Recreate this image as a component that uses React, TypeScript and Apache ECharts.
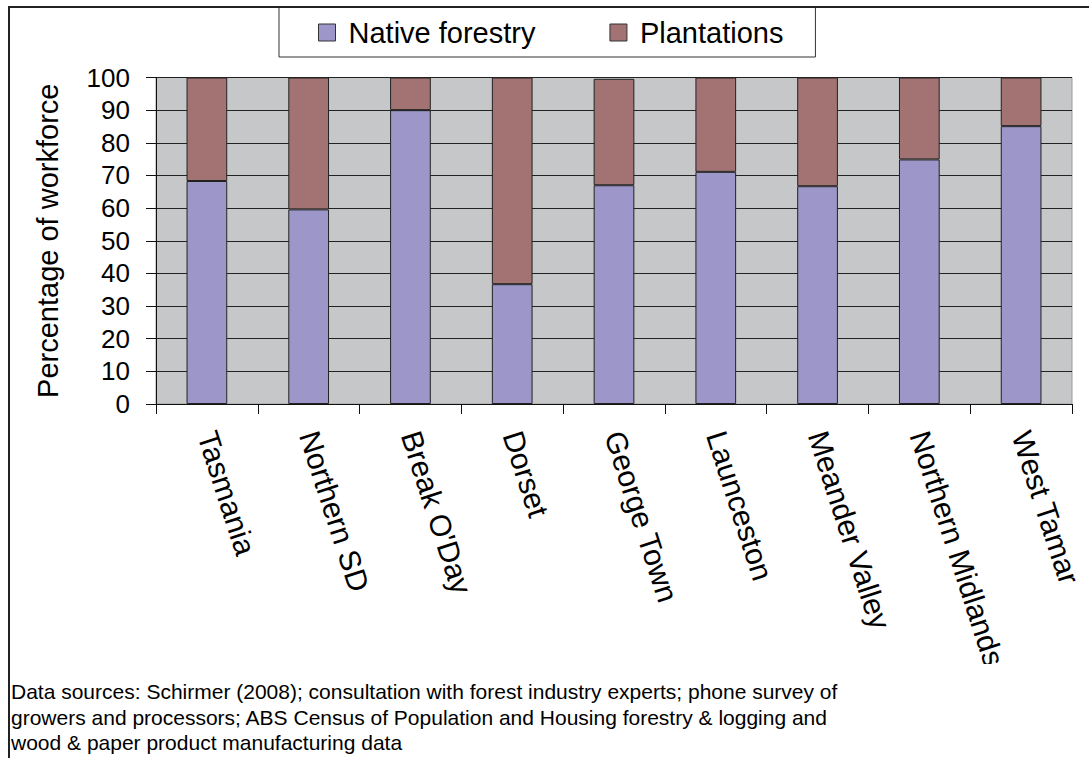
import React, { useEffect, useRef } from "react";
import * as echarts from "echarts";

const categories = [
  "Tasmania",
  "Northern SD",
  "Break O'Day",
  "Dorset",
  "George Town",
  "Launceston",
  "Meander Valley",
  "Northern Midlands",
  "West Tamar",
];
const nativeForestry = [68.3, 59.6, 90.0, 36.7, 67.0, 71.1, 66.7, 74.9, 85.1];
const plantations = [31.7, 40.4, 10.0, 63.3, 32.6, 28.9, 33.3, 25.1, 14.9];
const seriesNames = ["Native forestry", "Plantations"];
const yAxisTitle = "Percentage of workforce";
const footnoteLines = [
  "Data sources: Schirmer (2008); consultation with forest industry experts; phone survey of",
  "growers and processors; ABS Census of Population and Housing forestry & logging and",
  "wood & paper product manufacturing data",
];

const FONT = "'Liberation Sans', Arial, sans-serif";

export default function App() {
  const ref = useRef<HTMLDivElement>(null);
  useEffect(() => {
    if (!ref.current) return;
    const chart = echarts.init(ref.current, null, { renderer: "svg" });
    chart.setOption({
      animation: false,
      backgroundColor: "#ffffff",
      textStyle: { fontFamily: FONT },
      legend: {
        data: seriesNames,
        left: 279,
        top: 7,
        icon: "rect",
        itemWidth: 17,
        itemHeight: 17,
        itemGap: 74,
        padding: [11, 32, 10, 39],
        borderColor: "#333",
        borderWidth: 1,
        backgroundColor: "#ffffff",
        selectedMode: false,
        itemStyle: { borderColor: "#333", borderWidth: 1 },
        textStyle: { fontSize: 29, color: "#000", fontFamily: FONT, padding: [0, 0, 0, 8] },
      },
      grid: {
        left: 156,
        top: 77.5,
        right: 17,
        bottom: 354,
        show: true,
        backgroundColor: "#C6C7C9",
        borderColor: "#9a9a9a",
        borderWidth: 1,
      },
      xAxis: {
        type: "category",
        data: categories,
        boundaryGap: true,
        axisLine: { show: true, lineStyle: { color: "#111", width: 1 } },
        axisTick: { show: true, alignWithLabel: false, length: 10, lineStyle: { color: "#111" } },
        axisLabel: {
          rotate: -72,
          margin: 28,
          fontSize: 30,
          color: "#000",
          fontFamily: FONT,
          interval: 0,
        },
      },
      yAxis: {
        type: "value",
        min: 0,
        max: 100,
        interval: 10,
        name: yAxisTitle,
        nameLocation: "middle",
        nameGap: 94,
        nameTextStyle: { fontSize: 29, color: "#000", fontFamily: FONT },
        axisLine: { show: true, lineStyle: { color: "#111", width: 1 } },
        axisTick: { show: true, inside: false, length: 10, lineStyle: { color: "#111" } },
        axisLabel: { margin: 26, fontSize: 26, color: "#000", fontFamily: FONT },
        splitLine: { show: true, lineStyle: { color: "#222", width: 1 } },
      },
      series: [
        {
          name: seriesNames[0],
          type: "bar",
          stack: "total",
          barWidth: "40%",
          data: nativeForestry,
          itemStyle: { color: "#9C97C8", borderColor: "#222", borderWidth: 1 },
        },
        {
          name: seriesNames[1],
          type: "bar",
          stack: "total",
          barWidth: "40%",
          data: plantations,
          itemStyle: { color: "#A37374", borderColor: "#222", borderWidth: 1 },
        },
      ],
      graphic: [
        {
          type: "rect",
          shape: { x: 880, y: 664, width: 205, height: 40 },
          style: { fill: "#ffffff" },
          z: 99,
          silent: true,
        },
        {
          type: "polyline",
          shape: { points: [[9, 758], [9, 7], [1089, 7]] },
          style: { stroke: "#222", lineWidth: 2, fill: "none" },
          z: 100,
          silent: true,
        },
        {
          type: "text",
          left: 11,
          top: 679,
          style: {
            text: footnoteLines.join("\n"),
            font: `21px ${FONT}`,
            fill: "#000",
            lineHeight: 25.5,
          },
          z: 100,
        },
      ],
    });
    return () => chart.dispose();
  }, []);
  return (
    <div
      ref={ref}
      style={{ position: "absolute", left: 0, top: 0, width: 1089, height: 758 }}
    />
  );
}
